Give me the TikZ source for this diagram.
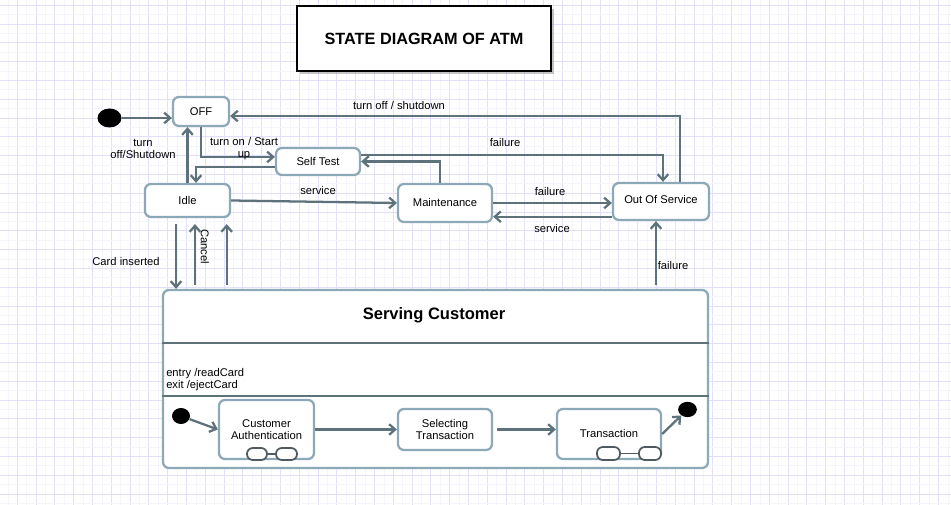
\documentclass[tikz,border=0pt]{standalone}
\usepackage{fontspec}
\setmainfont{Liberation Sans}
\usetikzlibrary{arrows.meta,shapes.geometric,shadows}
\definecolor{gridmaj}{HTML}{E2DFFA}
\definecolor{gridmin}{HTML}{F6F5FE}
\definecolor{stateline}{HTML}{8DA8B6}
\definecolor{arrowline}{HTML}{5E727B}
\definecolor{capline}{HTML}{4F5A60}

\begin{document}
\begin{tikzpicture}[x=0.75pt,y=-0.75pt,
  state/.style={draw=stateline,line width=1.7pt,rounded corners=4.5pt,fill=white,
    inner sep=0pt,align=center,font=\fontsize{8.4}{9}\selectfont},
  trans/.style={draw=arrowline,line width=1.7pt,-{Straight Barb[length=4.5pt,width=8pt]}},
  lbl/.style={font=\fontsize{8.4}{9}\selectfont,align=center,inner sep=0pt},
  dot/.style={ellipse,fill=black,inner sep=0pt},
  capsule/.style={draw=capline,line width=1.3pt,fill=white,rounded corners=4.4pt}]
\fill[white] (0,0) rectangle (951,505);
\useasboundingbox (0,0) rectangle (951,505);
% grid paper
\foreach \i in {0,...,50} {
  \draw[gridmin,line width=0.6pt] ({7.9+18.8*\i},0) -- ++(0,505);
  \draw[gridmaj,line width=0.75pt] ({-1.5+18.8*\i},0) -- ++(0,505);
}
\foreach \j in {0,...,27} {
  \draw[gridmin,line width=0.6pt] (0,{-4.1+18.8*\j}) -- ++(951,0);
  \draw[gridmaj,line width=0.75pt] (0,{5.3+18.8*\j}) -- ++(951,0);
}
\node[draw,line width=1.5pt,fill=white,minimum width=190.5pt,minimum height=48.75pt,
  drop shadow={shadow xshift=2.5pt,shadow yshift=-2.5pt,fill=black!45},
  font=\bfseries\fontsize{12.2}{14}\selectfont] (title) at (424,38.5) {STATE DIAGRAM OF ATM};
% states
\node[dot,minimum width=18pt,minimum height=14.25pt] (start) at (109.5,118) {};
\node[state,minimum width=42pt,minimum height=21.75pt] (off) at (201,111.5) {OFF};
\node[state,minimum width=63pt,minimum height=20.25pt] (selftest) at (318,161.5) {Self Test};
\node[state,minimum width=63.75pt,minimum height=24.75pt] (idle) at (187.5,200.5) {Idle};
\node[state,minimum width=70.5pt,minimum height=28.5pt] (maint) at (445,203) {Maintenance};
\node[state,minimum width=72pt,minimum height=27.75pt] (oos) at (661,201.5) {\raisebox{3.5pt}{Out Of Service}};
% composite state
\node[state,minimum width=408.75pt,minimum height=133.5pt] (serving) at (435.5,379) {};
\node[lbl,font=\bfseries\fontsize{12.4}{14}\selectfont] (servtitle) at (434,315) {Serving Customer};
\draw[arrowline,line width=1.6pt] (serving.west |- 0,343) -- (serving.east |- 0,343);
\draw[arrowline,line width=1.6pt] (serving.west |- 0,396) -- (serving.east |- 0,396);
\node[lbl,anchor=west,align=left,font=\fontsize{8.4}{9.3}\selectfont] (actions) at (166,379.5) {entry /readCard\\exit /ejectCard};
\node[dot,minimum width=13.5pt,minimum height=12pt] (substart) at (181,416) {};
\node[state,minimum width=71.25pt,minimum height=44.25pt] (auth) at (266.5,429.5) {Customer\\Authentication};
\node[state,minimum width=70.5pt,minimum height=30.75pt] (select) at (445,429.5) {Selecting\\Transaction};
\node[state,minimum width=78pt,minimum height=37.5pt] (transact) at (609,434) {Transaction};
\node[dot,minimum width=14pt,minimum height=11.5pt] (subend) at (687.5,409.5) {};
% sub-machine icons
\draw[capline,line width=1.3pt] (267,454) -- (276,454);
\draw[capsule] (247,448) rectangle (267,460);
\draw[capsule] (276,448) rectangle (297,460);
\draw[capline,line width=1.3pt] (620,453.5) -- (639,453.5);
\draw[capsule] (597,447) rectangle (620,460);
\draw[capsule] (639,447) rectangle (661,460);
% transitions
\draw[trans] (start.east) -- (off.west |- start.east);
\draw[trans] ([xshift=14.25pt]oos.north) |- ([yshift=-3.4pt]off.east);
\node[lbl] (l-shutdown) at (399,106) {turn off / shutdown};
\draw[trans] ([yshift=4.9pt]selftest.east) -| ([xshift=1.5pt]oos.north);
\node[lbl] (l-fail1) at (505,143) {failure};
\draw[trans] ([xshift=-3.75pt]maint.north) |- (selftest.east);
\draw[trans] (off.south) |- ([yshift=3.4pt]selftest.west);
\node[lbl] (l-turnon) at (244,149) {turn on / Start\\up};
\draw[trans] ([yshift=-3.9pt]selftest.west) -| ([xshift=6.4pt]idle.north);
\draw[trans] (idle.north) -- (idle.north |- off.south);
\node[lbl] (l-turnoff) at (143,149) {turn\\off/Shutdown};
\draw[trans] (idle.east) -- (maint.west);
\node[lbl] (l-service1) at (318,191) {service};
\draw[trans] (maint.east) -- (oos.west |- maint.east);
\node[lbl] (l-fail2) at (550,192) {failure};
\coordinate (mback) at ([yshift=-10.3pt]maint.east);
\draw[trans] (mback -| oos.west) -- (mback);
\node[lbl] (l-service2) at (552,229) {service};
\coordinate (cardin) at ([xshift=-8.6pt]idle.south);
\draw[trans,shorten <=4.5pt] (cardin) -- (cardin |- serving.north);
\node[lbl] (l-card) at (126,262) {Card inserted};
\coordinate (cancel) at ([xshift=5.6pt]idle.south);
\draw[trans,shorten <=3pt,shorten >=4.5pt] (cancel |- serving.north) -- (cancel);
\node[lbl,rotate=-90] (l-cancel) at (205,246.5) {Cancel};
\coordinate (back) at ([xshift=29.4pt]idle.south);
\draw[trans,shorten <=3pt,shorten >=4.5pt] (back |- serving.north) -- (back);
\coordinate (fail) at ([xshift=-3.75pt]oos.south);
\draw[trans,shorten <=3pt] (fail |- serving.north) -- (fail);
\node[lbl] (l-fail3) at (673,266) {failure};
% inside Serving Customer
\draw[trans] (substart) -- (auth.west);
\draw[trans] (auth.east) -- (select.west);
\draw[trans,shorten <=3pt] (select.east) -- (select.east -| transact.west);
\draw[trans] (transact.east) -- (subend);
\end{tikzpicture}
\end{document}
